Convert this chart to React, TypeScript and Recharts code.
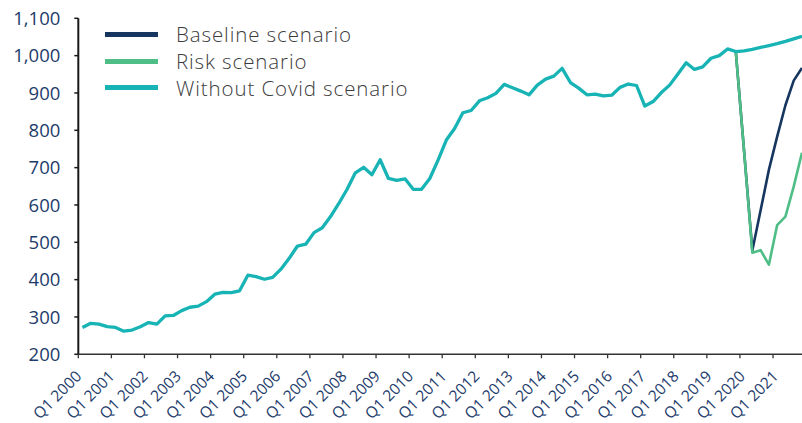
import React from 'react';
import { LineChart, Line, XAxis, YAxis, Legend } from 'recharts';

const years = [2000, 2001, 2002, 2003, 2004, 2005, 2006, 2007, 2008, 2009, 2010, 2011, 2012, 2013, 2014, 2015, 2016, 2017, 2018, 2019, 2020, 2021];
const quarterNames = ['Q1', 'Q2', 'Q3', 'Q4'];
const categories = years.flatMap((y) => quarterNames.map((q) => `${q} ${y}`));

const withoutCovid = [
  272, 283, 281, 274, 272, 262, 265, 274, 285, 281,
  303, 304, 317, 326, 329, 341, 361, 366, 365, 370,
  412, 408, 401, 406, 428, 457, 490, 495, 526, 539,
  569, 604, 642, 686, 701, 681, 721, 671, 666, 670,
  642, 642, 671, 720, 774, 805, 847, 853, 879, 887,
  899, 923, 914, 905, 895, 921, 937, 945, 966, 928,
  913, 895, 897, 892, 894, 915, 924, 920, 865, 877,
  901, 921, 951, 981, 963, 970, 993, 1000, 1018, 1011,
  1013, 1017, 1022, 1027, 1032, 1038, 1045, 1052,
];

const scenarioStart = 'Q4 2019';
const baselineTail = [1011, 745, 478, 586, 694, 783, 867, 933, 967];
const riskTail = [1011, 745, 472, 479, 440, 546, 569, 649, 740];

const yTicks = [200, 300, 400, 500, 600, 700, 800, 900, 1000, 1100];

const seriesNames = ['Baseline scenario', 'Risk scenario', 'Without Covid scenario'];
const seriesColors = ['#17365F', '#4FBE86', '#17B3B5'];

const startIdx = categories.indexOf(scenarioStart);
const data = categories.map((q, i) => ({
  q,
  withoutCovid: withoutCovid[i],
  baseline: i >= startIdx ? baselineTail[i - startIdx] : null,
  risk: i >= startIdx ? riskTail[i - startIdx] : null,
}));

const FONT = '"Open Sans", "DejaVu Sans", sans-serif';
const AXIS_TEXT = '#1E3C6B';

const XTick = (props: any) => {
  const { x, y, payload, index, width } = props;
  const n = categories.length;
  const band = typeof width === 'number' && width > 0 ? width / n : 8.27;
  const half = band / 2;
  const drift = (index / 4) * 0.4 - 1;
  const tx = x + drift + 1;
  const ty = y + 23;
  return (
    <g>
      <line x1={x - half} x2={x - half} y1={y} y2={y + 4} stroke="#333" strokeWidth={1.3} />
      <text
        x={tx}
        y={ty}
        textAnchor="end"
        fill={AXIS_TEXT}
        fontSize={15.5}
        fontFamily={FONT}
        transform={`rotate(-45 ${tx} ${ty})`}
      >
        {payload.value}
      </text>
    </g>
  );
};

const LegendContent = () => (
  <div style={{ fontFamily: FONT }}>
    {seriesNames.map((name, i) => (
      <div key={name} style={{ display: 'flex', alignItems: 'center', height: 26.7 }}>
        <div style={{ width: 53, height: 5, background: seriesColors[i], marginRight: 18, flexShrink: 0 }} />
        <span style={{ fontSize: 20.5, letterSpacing: 0.9, color: '#3C3C3C', fontWeight: 300, whiteSpace: 'nowrap', lineHeight: '24px' }}>
          {name}
        </span>
      </div>
    ))}
  </div>
);

export default function App() {
  return (
    <div style={{ position: 'absolute', left: 0, top: 0, width: 802, height: 423, overflow: 'hidden', background: '#fff' }}>
      <LineChart width={810} height={423} data={data} margin={{ top: 18.3, right: 3.9, bottom: 0, left: 0 }}>
        <XAxis
          dataKey="q"
          scale="band"
          interval={3}
          height={68.7}
          tickLine={false}
          tickSize={0}
          tickMargin={0}
          axisLine={{ stroke: '#333', strokeWidth: 1.5 }}
          tick={<XTick />}
        />
        <YAxis
          domain={[200, 1100]}
          ticks={yTicks}
          width={78.3}
          interval={0}
          tickSize={4}
          tickMargin={14}
          tickLine={{ stroke: '#1a1a1a', strokeWidth: 1.5 }}
          axisLine={{ stroke: '#1a1a1a', strokeWidth: 2 }}
          tickFormatter={(v: number) => v.toLocaleString('en-US')}
          tick={{ fill: AXIS_TEXT, fontSize: 18.5, fontFamily: FONT }}
        />
        <Legend
          layout="vertical"
          align="center"
          verticalAlign="middle"
          wrapperStyle={{ left: 105, top: 21, width: 'auto', height: 'auto' }}
          content={<LegendContent />}
        />
        <Line dataKey="baseline" name={seriesNames[0]} stroke={seriesColors[0]} strokeWidth={2.6} dot={false} activeDot={false} isAnimationActive={false} strokeLinejoin="round" />
        <Line dataKey="risk" name={seriesNames[1]} stroke={seriesColors[1]} strokeWidth={2.6} dot={false} activeDot={false} isAnimationActive={false} strokeLinejoin="round" />
        <Line dataKey="withoutCovid" name={seriesNames[2]} stroke={seriesColors[2]} strokeWidth={3.3} dot={false} activeDot={false} isAnimationActive={false} strokeLinejoin="round" />
      </LineChart>
    </div>
  );
}
